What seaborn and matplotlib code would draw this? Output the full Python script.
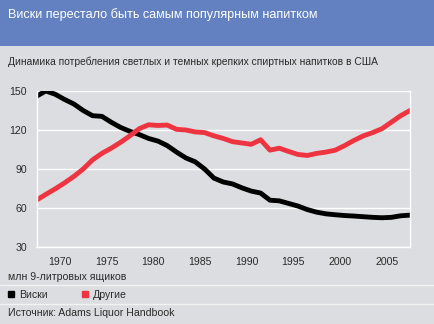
import matplotlib
matplotlib.use("Agg")
import matplotlib.pyplot as plt
import seaborn as sns
import pandas as pd
from matplotlib import font_manager
from matplotlib.lines import Line2D

# Consumption of spirits in the USA, million 9-litre cases
years = list(range(1967, 2008))
whisky = [146, 150, 147.5, 143.5, 140, 135, 131, 130.5, 126, 122,
          119, 116.5, 113.5, 111.5, 108, 103, 98.5, 95.5, 90, 83,
          80, 78.5, 75.5, 73, 71.5, 66, 65.5, 63.5, 61.5, 58.8,
          56.8, 55.5, 54.8, 54.2, 53.8, 53.3, 52.8, 52.5, 52.8, 54, 54.5]
other = [66, 70.5, 74.7, 79.3, 84.3, 90, 97, 102, 106, 110.5,
         115.5, 121, 124, 123.5, 123.8, 120.5, 120, 118.5, 118, 115.5,
         113.5, 111, 110, 109, 112.5, 104.5, 106, 103.5, 101.2, 100.4,
         102, 103, 104.5, 108, 112, 115.5, 118, 121, 126, 131, 135]
series_names = ["Виски", "Другие"]
year_labels = [1970, 1975, 1980, 1985, 1990, 1995, 2000, 2005]
y_ticks = [30, 60, 90, 120, 150]

title = "Виски перестало быть самым популярным напитком"
subtitle = "Динамика потребления светлых и темных крепких спиртных напитков в США"
unit = "млн 9-литровых ящиков"
source = "Источник: Adams Liquor Handbook"

BG = "#dcdde0"
HEADER = "#6381c0"
RED = "#ee3440"
TEXT = "#2a2a2a"

sns.set_theme(style="white")
installed = {f.name for f in font_manager.fontManager.ttflist}
family = [f for f in ["Liberation Sans Narrow", "DejaVu Sans Condensed", "Liberation Sans"] if f in installed]
plt.rcParams["font.family"] = family + ["DejaVu Sans"]

df = pd.DataFrame({
    "year": years * 2,
    "value": whisky + other,
    "series": [series_names[0]] * len(years) + [series_names[1]] * len(years),
})
palette = {series_names[0]: "black", series_names[1]: RED}

fig = plt.figure(figsize=(4.35, 3.24), dpi=100, facecolor=BG)

# header band
fig.patches.append(plt.Rectangle((0, 1 - 45.5 / 324), 1, 45.5 / 324,
                                 transform=fig.transFigure, facecolor=HEADER,
                                 edgecolor="none", zorder=0))
fig.text(8 / 435, 1 - 15 / 324, title, color="white", fontsize=9.1,
         va="center", ha="left")
fig.text(8 / 435, 1 - 62 / 324, subtitle, color=TEXT, fontsize=7.35,
         va="center", ha="left")

ax = fig.add_axes([36.5 / 435, 1 - 247 / 324, (410 - 36.5) / 435, (247 - 91) / 324])
ax.set_facecolor(BG)

sns.lineplot(data=df, x="year", y="value", hue="series", palette=palette,
             linewidth=3.5, legend=False, ax=ax,
             solid_capstyle="round", solid_joinstyle="round")

ax.set_xlim(years[0], years[-1])
ax.set_ylim(y_ticks[0], y_ticks[-1])
ax.set_yticks(y_ticks)
ax.set_yticklabels([str(v) for v in y_ticks])
ax.grid(axis="y", color="white", linewidth=1.0)
ax.set_axisbelow(True)

# boundary ticks every five years, labels centred between them
ax.set_xticks(list(range(years[0], years[-1] + 1, 5)))
ax.set_xticklabels([])
ax.set_xticks([y - 0.5 for y in year_labels], minor=True)
ax.set_xticklabels([str(y) for y in year_labels], minor=True)
ax.tick_params(axis="x", which="major", length=5, width=1, color="white", direction="out")
ax.tick_params(axis="x", which="minor", length=0, labelsize=7.6, labelcolor=TEXT, pad=7)
ax.tick_params(axis="y", length=5, width=1, color="white", labelsize=7.6,
               labelcolor=TEXT, pad=2)

for side in ["left", "right", "bottom"]:
    ax.spines[side].set_visible(True)
    ax.spines[side].set_color("white")
    ax.spines[side].set_linewidth(1.0)
ax.spines["top"].set_visible(False)
ax.set_xlabel("")
ax.set_ylabel("")

fig.text(8 / 435, 1 - 277 / 324, unit, color=TEXT, fontsize=7.6, va="center", ha="left")

# separators
for yp in (285, 303.5):
    fig.add_artist(Line2D([0, 1], [1 - yp / 324] * 2, transform=fig.transFigure,
                          color="#f2f2f2", linewidth=1.0))

handles = [Line2D([], [], marker="s", linestyle="none", markersize=5,
                  markerfacecolor=palette[n], markeredgecolor=palette[n]) for n in series_names]
fig.legend(handles, series_names, loc="center left",
           bbox_to_anchor=(3 / 435, 1 - 294.5 / 324), ncol=2, frameon=False,
           fontsize=7.6, handlelength=0.8, handletextpad=0.3, columnspacing=3.2,
           labelcolor=TEXT, borderaxespad=0)

fig.text(8 / 435, 1 - 313 / 324, source, color=TEXT, fontsize=7.6, va="center", ha="left")

fig.savefig("out.png", dpi=100, facecolor=BG)
